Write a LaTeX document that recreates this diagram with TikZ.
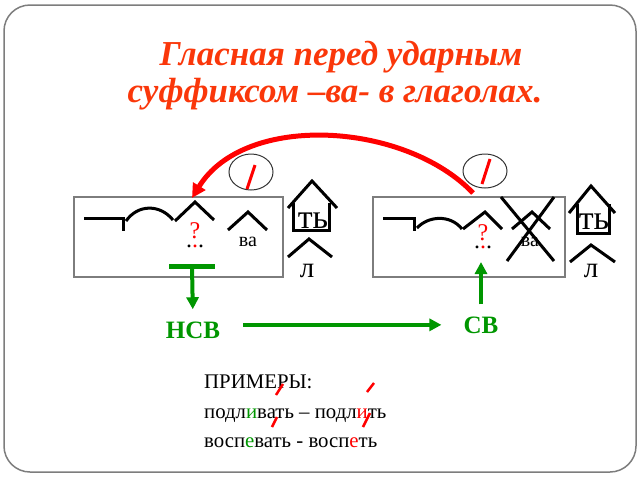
\documentclass[tikz,border=0pt]{standalone}
\usepackage{fontspec}
\setmainfont{Liberation Serif}
\usetikzlibrary{arrows.meta}
\definecolor{titlered}{RGB}{250,55,10}
\definecolor{mygreen}{RGB}{0,150,0}
\definecolor{myred}{RGB}{255,0,0}
\definecolor{boxgray}{RGB}{125,125,125}
\begin{document}
\begin{tikzpicture}[x=1pt,y=-1pt,
  sign/.style={line width=3pt, line join=miter, black},
  schemebox/.style={draw=boxgray, line width=1.3pt},
  frame/.style={draw=boxgray, line width=1.5pt, rounded corners=26pt},
  garrow/.style={mygreen, line width=4pt, -{Triangle[length=12pt,width=12pt]}},
  rarrow/.style={myred, line width=5pt, -{Triangle[length=14pt,width=14pt]}},
  stress/.style={myred, line width=2.5pt},
  ring/.style={draw=black!80, line width=1pt},
  cross/.style={black, line width=3pt},
  titletext/.style={text=titlered, inner sep=0pt, font=\fontsize{35}{40}\selectfont\bfseries\itshape},
  morph/.style={inner sep=0pt, font=\fontsize{34}{40}\selectfont},
  small/.style={inner sep=0pt, font=\fontsize{20}{24}\selectfont},
  quest/.style={inner sep=0pt, text=myred, font=\fontsize{24}{28}\selectfont},
  dotsrow/.style={inner sep=0pt, text=black, font=\fontsize{24}{28}\selectfont},
  aspect/.style={inner sep=0pt, text=mygreen, font=\fontsize{25}{30}\selectfont\bfseries},
  example/.style={inner sep=0pt, anchor=base west, font=\fontsize{20.8}{24}\selectfont}
]
\useasboundingbox (0,0) rectangle (640,480);
\draw[frame] (4,5) rectangle (636,472);

% title
\node[titletext, anchor=base] (t1) at (341,65) {Гласная перед ударным};
\node[titletext, anchor=base] (t2) at (335,102) {суффиксом –ва- в глаголах.};

% left scheme box
\draw[schemebox] (74,197) rectangle (283,277);
\draw[sign] (84,218) -- (123,218) -- (123,231);
\draw[sign] (126,221) .. controls (138,204) and (160,204) .. (173,220);
\draw[sign] (175,221) -- (195,202) -- (214,220);
\draw[sign] (228,230) -- (248,212) -- (267,230);
\node[quest, anchor=base] (q1) at (195,238) {?};
\node[dotsrow, anchor=base] (d1) at (195,247) {.\textcolor{myred}{.}.};
\node[small, anchor=base] (va1) at (248,246) {ва};
% green T
\draw[mygreen, line width=5pt] (169,266) -- (215,266);
\coordinate (tbar) at (192,266);

% left house
\draw[sign] (288,208) -- (312,181) -- (337,208);
\draw[sign] (293,203) -- (293,230) -- (329,230) -- (329,203);
\node[morph, anchor=base] (ty1) at (313,228) {ть};
\draw[sign] (288,257) -- (309,239) -- (332,257);
\node[morph, anchor=base, font=\fontsize{29}{34}\selectfont] (l1) at (307,277) {л};

% right scheme box
\draw[schemebox] (373,197) rectangle (565,277);
\draw[sign] (383,218) -- (414,218) -- (414,231);
\draw[sign] (417,228) .. controls (428,216) and (450,214) .. (462,229);
\draw[sign] (463,229) -- (485,212) -- (502,229);
\draw[sign] (512,229) -- (532,212) -- (550,229);
\node[quest, anchor=base] (q2) at (483,240) {?};
\node[dotsrow, anchor=base] (d2) at (483,248) {.\textcolor{myred}{.}.};
\node[small, anchor=base] (va2) at (530,246) {ва};
\draw[cross] (501,197) -- (554,261);
\draw[cross] (554,197) -- (507,261);

% right house
\draw[sign] (569,213) -- (591,186) -- (615,213);
\draw[sign] (577,204) -- (577,233) -- (609,233) -- (609,204);
\node[morph, anchor=base] (ty2) at (594,229) {ть};
\draw[sign] (570,262) -- (591,245) -- (615,262);
\node[morph, anchor=base, font=\fontsize{29}{34}\selectfont] (l2) at (591,277) {л};

% stress rings
\draw[ring] (251,172) ellipse [x radius=22, y radius=18];
\draw[stress, line width=3pt] (247,189) -- (255,165);
\draw[ring] (485,171) ellipse [x radius=22, y radius=17];
\draw[stress, line width=3pt] (482,184) -- (490,159);

% red arc
\coordinate (arcstart) at (473,193);
\coordinate (arcend) at (192,198);
\draw[rarrow] (arcstart) .. controls (405,122) and (245,112) .. (arcend);

% aspects
\node[aspect, anchor=base] (nsv) at (193,338) {НСВ};
\node[aspect, anchor=base] (sv) at (481,333) {СВ};
\coordinate (qright) at (481,262);
\draw[garrow, shorten >=12pt] (tbar) -- (nsv.north);
\draw[garrow, shorten <=12pt] (sv.north) -- (qright);
\draw[garrow, shorten <=23pt, shorten >=22pt] (nsv.east |- sv.center) -- (sv.west);

% examples
\node[example] (ex0) at (204,388) {ПРИМЕРЫ:};
\node[example] (ex1) at (204,418) {подл\textcolor{mygreen}{и}вать – подл\textcolor{myred}{и}ть};
\node[example] (ex2) at (204,447) {восп\textcolor{mygreen}{е}вать - восп\textcolor{myred}{е}ть};
\draw[stress] (276,395) -- (283,384);
\draw[stress] (367,392) -- (374,383);
\draw[stress] (272,427) -- (277,417);
\draw[stress] (363,427) -- (370,413);
\end{tikzpicture}
\end{document}
